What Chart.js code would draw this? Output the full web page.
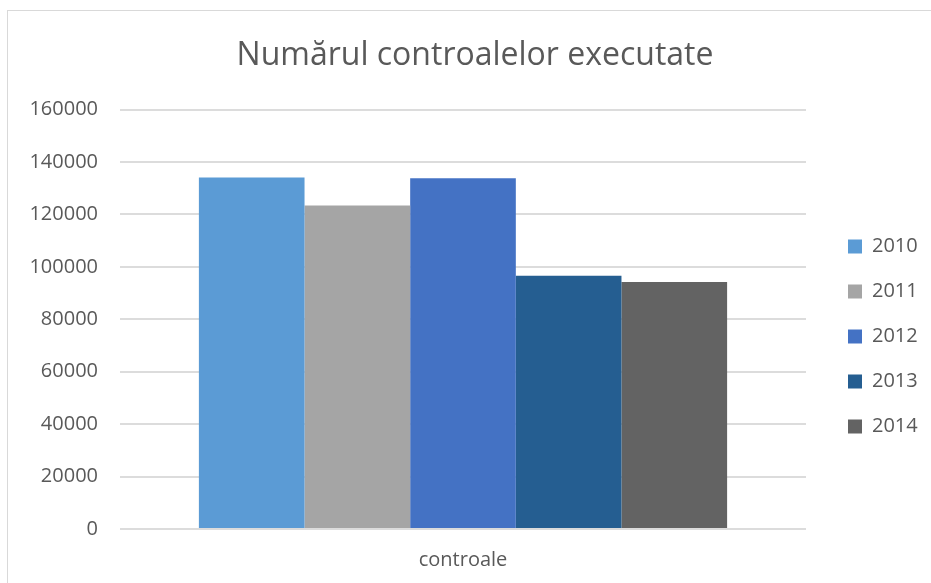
<!DOCTYPE html>
<html>
<head>
<meta charset="utf-8">
<script src="https://cdn.jsdelivr.net/npm/chart.js@4"></script>
<style>
  html, body { margin: 0; padding: 0; background: #fff; overflow: hidden; }
  #wrap { position: relative; width: 931px; height: 583px; }
  #frame { position: absolute; left: 7px; top: 10px; width: 1000px; height: 1000px; border: 1px solid #D9D9D9; box-sizing: border-box; }
  canvas { position: absolute; left: 0; top: 0; }
</style>
</head>
<body>
<div id="wrap">
  <div id="frame"></div>
  <canvas id="c" width="931" height="583"></canvas>
</div>
<script>
const chartTitle = 'Numărul controalelor executate';
const categories = ['controale'];
const seriesLabels = ['2010', '2011', '2012', '2013', '2014'];
const seriesValues = [134100, 123400, 133750, 96550, 94250];
const seriesColors = ['#5B9BD5', '#A5A5A5', '#4472C4', '#255E91', '#636363'];
const yTickLabels = ['0', '20000', '40000', '60000', '80000', '100000', '120000', '140000', '160000'];

const FONT = '"Open Sans", "Noto Sans", sans-serif';
const TEXT = '#595959';
const LEGEND_W = 124;

const datasets = seriesLabels.map((lab, i) => ({
  label: lab,
  data: [seriesValues[i]],
  backgroundColor: seriesColors[i],
  borderWidth: 0,
  barPercentage: 1,
  categoryPercentage: 0.77
}));

const chart = new Chart(document.getElementById('c'), {
  type: 'bar',
  data: { labels: categories, datasets },
  options: {
    responsive: false,
    animation: false,
    devicePixelRatio: 1,
    layout: { padding: { left: 20, right: 1, top: 0, bottom: 0 } },
    plugins: {
      title: {
        display: true,
        text: chartTitle,
        color: TEXT,
        font: { family: FONT, size: 32, weight: 'normal', lineHeight: 1.2 },
        padding: { top: 36.6, bottom: 34.5 }
      },
      legend: {
        display: true,
        position: 'right',
        labels: {
          color: TEXT,
          font: { family: FONT, size: 20 },
          boxWidth: 14,
          boxHeight: 14,
          padding: 25
        }
      },
      tooltip: { enabled: false }
    },
    scales: {
      x: {
        grid: { display: false },
        border: { display: false },
        ticks: { color: TEXT, font: { family: FONT, size: 20, lineHeight: 1.2 }, padding: 11 },
        afterFit: (s) => { s.height = 54; }
      },
      y: {
        min: 0,
        max: 160000,
        ticks: {
          stepSize: 20000,
          color: TEXT,
          font: { family: FONT, size: 20 },
          padding: 22,
          callback: (v, i) => yTickLabels[i]
        },
        grid: { color: '#DCDCDC', lineWidth: 2, drawTicks: false },
        border: { display: false },
        afterFit: (s) => { s.width = 100; }
      }
    }
  }
});

const lg = chart.legend;
const origFit = lg.fit.bind(lg);
lg.fit = function () { origFit(); this.width = LEGEND_W; };
const origDraw = lg.draw.bind(lg);
lg.draw = function () {
  const ctx = this.ctx;
  ctx.save();
  ctx.translate(17, 45);
  origDraw();
  ctx.restore();
};
chart.update();
</script>
</body>
</html>
